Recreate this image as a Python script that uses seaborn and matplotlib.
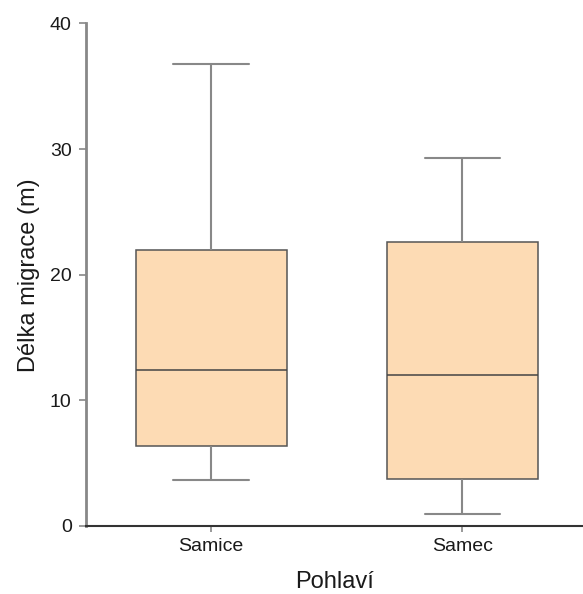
import matplotlib
matplotlib.use('Agg')
import matplotlib.pyplot as plt
import pandas as pd
import seaborn as sns

# values (min, Q1, median, Q3, max for each group)
categories = ['Samice', 'Samec']
samice_vals = [3.66, 6.39, 12.39, 21.95, 36.8]
samec_vals = [0.96, 3.77, 12.0, 22.6, 29.27]
y_ticks = [0, 10, 20, 30, 40]

df = pd.DataFrame({
    'Pohlaví': [categories[0]] * len(samice_vals) + [categories[1]] * len(samec_vals),
    'Délka migrace (m)': samice_vals + samec_vals,
})

sns.set_style('white')
plt.rcParams['font.family'] = ['Liberation Sans', 'DejaVu Sans']

fig = plt.figure(figsize=(5.83, 5.94), dpi=100)
ax = fig.add_axes([0.1467, 0.1145, 0.8533, 0.846])

sns.boxplot(
    data=df, x='Pohlaví', y='Délka migrace (m)', order=categories,
    color='#FDDBB4', saturation=1, width=0.6, whis=(0, 100),
    showfliers=False, ax=ax,
    boxprops=dict(edgecolor='#555555', linewidth=1.1),
    whiskerprops=dict(color='#888888', linewidth=1.5),
    capprops=dict(color='#888888', linewidth=1.5),
    medianprops=dict(color='#444444', linewidth=1.1),
)

ax.set_xlim(-0.5, 1.48)
ax.set_ylim(0, 40)
ax.set_yticks(y_ticks)

ax.set_xlabel('Pohlaví', fontsize=17, color='#1a1a1a', labelpad=11)
ax.set_ylabel('Délka migrace (m)', fontsize=17, color='#1a1a1a', labelpad=7)

ax.tick_params(axis='y', which='both', direction='out', length=5, width=1.2,
               color='#888888', labelsize=14, labelcolor='#1a1a1a', pad=5, left=True)
ax.tick_params(axis='x', which='both', direction='out', length=4, width=1.2,
               color='#888888', labelsize=14, labelcolor='#1a1a1a', pad=5, bottom=True)

for side in ['top', 'right']:
    ax.spines[side].set_visible(False)
ax.spines['left'].set_color('#888888')
ax.spines['left'].set_linewidth(2)
ax.spines['bottom'].set_color('#333333')
ax.spines['bottom'].set_linewidth(1.5)

fig.savefig('out.png', dpi=100)
plt.close(fig)
